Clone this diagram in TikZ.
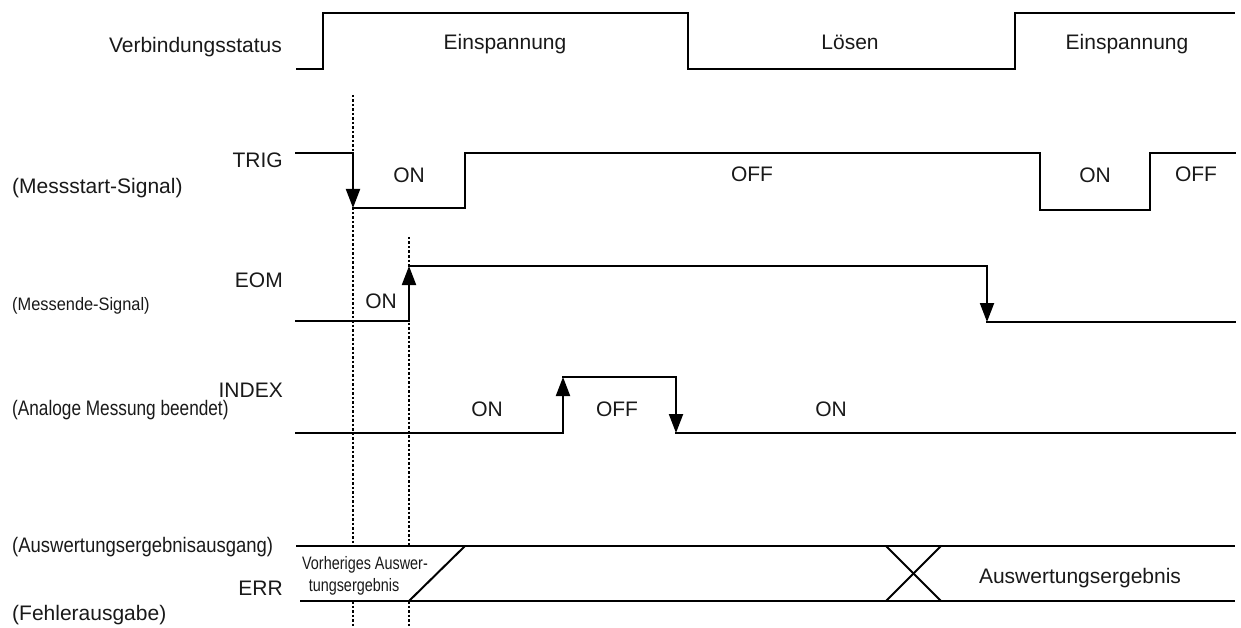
\documentclass[tikz,border=0pt]{standalone}
\usepackage{fontspec}
\setmainfont{Liberation Sans}
\usepackage{graphicx}
\usetikzlibrary{arrows.meta}
\begin{document}
\begin{tikzpicture}[x=1pt,y=-1pt,
  sig/.style={line width=2pt,line cap=rect},
  arr/.style={line width=2pt,-{Triangle[width=14pt,length=19pt]}},
  guide/.style={line width=1.2pt,dash pattern=on 2.5pt off 2pt},
  lbl/.style={inner sep=0pt,text=black!90,font=\fontsize{21}{25}\selectfont},
  slbl/.style={inner sep=0pt,text=black!90,font=\fontsize{18}{21}\selectfont}]
\useasboundingbox (0,0) rectangle (1241,628);
% guides (interrupted inside the ERR band)
\coordinate (g1t) at (353,95);  \coordinate (g1m) at (353,546);
\coordinate (g1n) at (353,601); \coordinate (g1b) at (353,628);
\coordinate (g2t) at (409,237); \coordinate (g2m) at (409,546);
\coordinate (g2n) at (409,601); \coordinate (g2b) at (409,628);
\draw[guide] (g1t) -- (g1m);
\draw[guide] (g1n) -- (g1b);
\draw[guide] (g2t) -- (g2m);
\draw[guide] (g2n) -- (g2b);
% Verbindungsstatus
\node[lbl,anchor=base east] (vs) at (282,53) {Verbindungsstatus};
\node[lbl,anchor=base] (e1) at (505,50) {Einspannung};
\node[lbl,anchor=base] (lo) at (850,50) {Lösen};
\node[lbl,anchor=base] (e2) at (1127,50) {Einspannung};
\draw[line width=2pt] (296,69) -- (323,69) -- (323,13) -- (688,13) -- (688,69) -- (1015,69) -- (1015,13) -- (1235,13);
% TRIG
\node[lbl,anchor=base east] (trig) at (283,168) {TRIG};
\node[lbl,anchor=base west] (trigd) at (12,194) {(Messstart-Signal)};
\node[lbl,anchor=base] (t1) at (409,183) {ON};
\node[lbl,anchor=base] (t2) at (752,182) {OFF};
\node[lbl,anchor=base] (t3) at (1095,183) {ON};
\node[lbl,anchor=base] (t4) at (1196,182) {OFF};
\draw[sig] (296,153) -- (353,153);
\draw[arr] (353,153) -- (353,208);
\draw[sig] (353,208) -- (465,208) -- (465,153) -- (1040,153) -- (1040,210) -- (1150,210) -- (1150,153) -- (1235,153);
% EOM
\node[lbl,anchor=base east] (eom) at (283,287) {EOM};
\node[slbl,anchor=base west] (eomd) at (12,310) {\scalebox{0.91}[1]{(Messende-Signal)}};
\node[lbl,anchor=base] (m1) at (381,308) {ON};
\draw[sig] (296,321) -- (409,321);
\draw[arr] (409,321) -- (409,266);
\draw[sig] (409,266) -- (987,266);
\draw[arr] (987,266) -- (987,322);
\draw[sig] (987,322) -- (1235,322);
% INDEX
\node[lbl,anchor=base east] (idx) at (283,397) {INDEX};
\node[lbl,anchor=base west] (idxd) at (12,415) {\scalebox{0.82}[1]{(Analoge Messung beendet)}};
\node[lbl,anchor=base] (i1) at (487,416) {ON};
\node[lbl,anchor=base] (i2) at (617,416) {OFF};
\node[lbl,anchor=base] (i3) at (831,416) {ON};
\draw[sig] (296,433) -- (563,433);
\draw[arr] (563,433) -- (563,377);
\draw[sig] (563,377) -- (676,377);
\draw[arr] (676,377) -- (676,433);
\draw[sig] (676,433) -- (1235,433);
% ERR
\node[lbl,anchor=base west] (errd1) at (12,552) {\scalebox{0.88}[1]{(Auswertungsergebnisausgang)}};
\node[lbl,anchor=base east] (err) at (283,595) {ERR};
\node[lbl,anchor=base west] (errd2) at (12,620) {(Fehlerausgabe)};
\node[slbl,anchor=base] (prev1) at (365,569) {\scalebox{0.8}[1]{Vorheriges Auswer-}};
\node[slbl,anchor=base] (prev2) at (354,591) {\scalebox{0.8}[1]{tungsergebnis}};
\node[lbl,anchor=base] (res) at (1080,583) {Auswertungsergebnis};
\draw[line width=2pt] (296,546) -- (1235,546);
\draw[line width=2pt] (300,601) -- (1235,601);
\draw[line width=2pt] (409,601) -- (465,546);
\draw[line width=2pt] (886,546) -- (941,601);
\draw[line width=2pt] (886,601) -- (941,546);
\end{tikzpicture}
\end{document}
